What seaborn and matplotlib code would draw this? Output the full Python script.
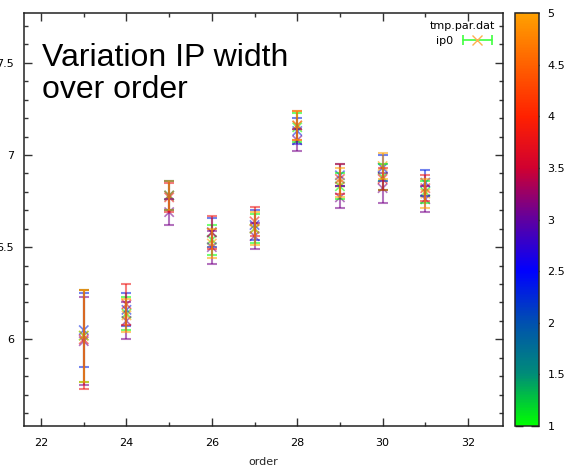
import numpy as np
import pandas as pd
import seaborn as sns
import matplotlib.pyplot as plt
from matplotlib.colors import LinearSegmentedColormap, Normalize
from matplotlib.colorbar import ColorbarBase
from matplotlib.lines import Line2D
from matplotlib.legend_handler import HandlerLine2D, HandlerTuple
from matplotlib.ticker import MultipleLocator

# data: one row per (order, series); series colour value 1..5
orders = [23, 24, 25, 26, 27, 28, 29, 30, 31]
color_values = [1.0, 2.3, 3.1, 3.8, 5.0]

width_green  = [6.02, 6.14, 6.78, 6.54, 6.60, 7.15, 6.83, 6.88, 6.80]
width_blue   = [6.05, 6.16, 6.78, 6.58, 6.62, 7.13, 6.89, 6.93, 6.85]
width_purple = [5.99, 6.10, 6.69, 6.50, 6.56, 7.08, 6.77, 6.82, 6.76]
width_red    = [6.00, 6.19, 6.77, 6.58, 6.64, 7.16, 6.87, 6.87, 6.82]
width_orange = [6.02, 6.13, 6.78, 6.52, 6.60, 7.16, 6.85, 6.94, 6.79]

err_green  = [0.25, 0.09, 0.08, 0.08, 0.08, 0.08, 0.07, 0.07, 0.06]
err_blue   = [0.20, 0.09, 0.08, 0.08, 0.08, 0.07, 0.06, 0.07, 0.07]
err_purple = [0.24, 0.10, 0.07, 0.09, 0.07, 0.06, 0.06, 0.08, 0.07]
err_red    = [0.27, 0.11, 0.08, 0.09, 0.08, 0.08, 0.08, 0.06, 0.07]
err_orange = [0.25, 0.09, 0.08, 0.08, 0.09, 0.08, 0.08, 0.07, 0.08]

widths = [width_green, width_blue, width_purple, width_red, width_orange]
errors = [err_green, err_blue, err_purple, err_red, err_orange]

rows = []
for c, w, e in zip(color_values, widths, errors):
    for o, wi, ei in zip(orders, w, e):
        rows.append({"order": o, "width": wi, "err": ei, "c": c})
df = pd.DataFrame(rows)

# gnuplot-like palette, stops at 1, 1.5, ... 5
pal_colors = ["#00ff00", "#008c78", "#0050b0", "#0000ff", "#6000a0",
              "#d00030", "#ff2000", "#ff6000", "#ffa000"]
pal_pos = np.linspace(0, 1, len(pal_colors))
cmap = LinearSegmentedColormap.from_list("pal", list(zip(pal_pos, pal_colors)))
norm = Normalize(1, 5)

sns.set_style("ticks")
plt.rcParams['font.family'] = ['DejaVu Sans']
plt.rcParams['text.color'] = 'black'
plt.rcParams['xtick.labelcolor'] = 'black'
plt.rcParams['ytick.labelcolor'] = 'black'

fig = plt.figure(figsize=(5.7, 4.71), dpi=100)
ax = fig.add_axes([24 / 570, 45 / 471, 479 / 570, 413 / 471])
cax = fig.add_axes([515 / 570, 45 / 471, 24 / 570, 413 / 471])

# error bars, drawn series by series so orange ends on top
for c, grp in df.groupby("c"):
    col = cmap(norm(c))
    ax.errorbar(grp["order"], grp["width"], yerr=grp["err"], fmt="none",
                ecolor=col, elinewidth=1.5, capsize=3.5, capthick=1.5, alpha=0.55)

sns.scatterplot(data=df, x="order", y="width", hue="c", palette=cmap,
                hue_norm=(1, 5), marker="x", s=45, linewidth=1.2,
                alpha=0.55, legend=False, ax=ax)

ax.set_xlim(21.6, 32.82)
ax.set_ylim(5.53, 7.77)
ax.xaxis.set_major_locator(MultipleLocator(2))
ax.xaxis.set_minor_locator(MultipleLocator(1))
ax.yaxis.set_major_locator(MultipleLocator(0.5))
ax.yaxis.set_minor_locator(MultipleLocator(0.1))
ax.yaxis.set_major_formatter(plt.FuncFormatter(lambda v, p: f"{v:g}"))
ax.tick_params(which="both", direction="in", top=True, right=True,
               labelsize=8, color="#333333")
ax.tick_params(which="major", length=6, width=1)
ax.tick_params(which="minor", length=3, width=1)
ax.tick_params(axis="x", pad=9)
ax.tick_params(axis="y", pad=7)
ax.set_xlabel("order", fontsize=8, labelpad=6)
ax.set_ylabel("")
for s in ax.spines.values():
    s.set_linewidth(1.1)
    s.set_color("#222222")

ax.text(0.037, 0.928, "Variation IP width\nover order", transform=ax.transAxes,
        ha="left", va="top", fontsize=23, family="Liberation Sans",
        linespacing=1.12, color="black")

# legend
h_bar = Line2D([], [], color="#40ff40", marker="|", markersize=7,
               markeredgewidth=1.2, lw=1.2)
h_x = Line2D([], [], ls="none", marker="x", color="#ffb050", markersize=7)
leg = ax.legend([(h_bar, h_x)], ["ip0"], title="tmp.par.dat",
                loc="upper right", frameon=False, markerfirst=False,
                fontsize=8, title_fontsize=8, handlelength=3.2, numpoints=2,
                borderaxespad=0.3, handletextpad=0.6,
                handler_map={tuple: HandlerTuple(ndivide=1),
                             h_x: HandlerLine2D(numpoints=1)})
leg._legend_box.align = "right"

# colour box
cb = ColorbarBase(cax, cmap=cmap, norm=norm, orientation="vertical")
cb.set_ticks(np.arange(1, 5.01, 0.5))
cb.ax.yaxis.set_major_formatter(plt.FuncFormatter(lambda v, p: f"{v:g}"))
cax.tick_params(direction="in", left=True, right=True, length=6, width=1,
                color="black", labelsize=8, pad=6)
cb.outline.set_linewidth(1.1)

fig.savefig("out.png", dpi=100)
